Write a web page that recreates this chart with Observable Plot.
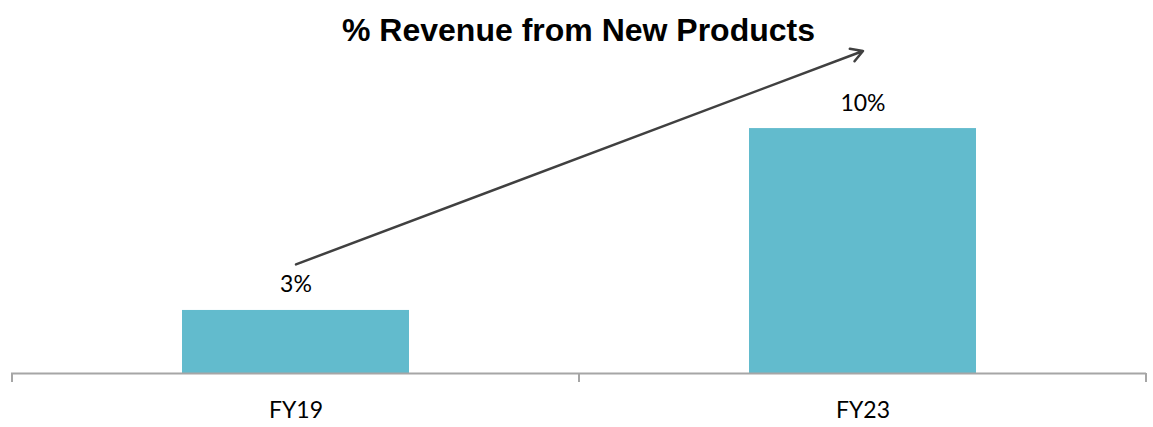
<!DOCTYPE html>
<html>
<head>
<meta charset="utf-8">
<script src="https://cdn.jsdelivr.net/npm/d3@7"></script>
<script src="https://cdn.jsdelivr.net/npm/@observablehq/plot@0.6"></script>
<style>
  body { margin: 0; background: #fff; }
  #title {
    height: 32px;
    padding: 12px 7px 0 11px;
    line-height: 32px;
    font: bold 32px "Liberation Sans", Arial, sans-serif;
    text-align: center;
    color: #000;
  }
</style>
</head>
<body>
<div id="title">% Revenue from New Products</div>
<div id="chart"></div>
<script>
// ---- data ----
const categories = ["FY19", "FY23"];
const values = [0.026, 0.101];           // share of revenue from new products
const arrowStart = ["FY19", 0.045];      // annotation arrow tail (category, value)
const arrowEnd = ["FY23", 0.133];        // annotation arrow head (category, value)

const data = categories.map((c, i) => ({category: c, value: values[i]}));
const fmt = d3.format(".0%");

const plot = Plot.plot({
  width: 1153,
  height: 383,
  marginLeft: 11,
  marginRight: 7,
  marginTop: 38,
  marginBottom: 54,
  x: {domain: categories, paddingInner: 0.6, paddingOuter: 0.3, label: null},
  y: {domain: [0, 0.12], axis: null},
  style: {fontFamily: "Lato, sans-serif", fontSize: "23px", color: "#000", background: "#fff", overflow: "visible"},
  marks: [
    Plot.barY(data, {x: "category", y: "value", fill: "#62BBCD"}),
    Plot.ruleY([0], {stroke: "#A6A6A6", strokeWidth: 2}),
    Plot.axisX({tickSize: 0, tickPadding: 28, label: null, fontSize: 23}),
    Plot.text(data, {x: "category", y: "value", text: d => fmt(d.value), dy: -18, lineAnchor: "bottom", fontSize: 23, fill: "#000"}),
    Plot.arrow([{a: arrowStart, b: arrowEnd}], {
      x1: d => d.a[0], y1: d => d.a[1], x2: d => d.b[0], y2: d => d.b[1],
      stroke: "#404040", strokeWidth: 2.5, headLength: 8
    })
  ]
});

// category-boundary tick marks on the x axis, placed with Plot's own x scale
const xs = plot.scale("x");
const y0 = plot.scale("y").apply(0);
const step = xs.step ?? xs.bandwidth / (1 - xs.paddingInner);
const half = (step - xs.bandwidth) / 2;
const bounds = categories.map(c => xs.apply(c) - half)
  .concat([xs.apply(categories[categories.length - 1]) + xs.bandwidth + half]);
d3.select(plot).append("g")
  .selectAll("line").data(bounds).join("line")
  .attr("x1", d => d).attr("x2", d => d)
  .attr("y1", y0).attr("y2", y0 + 9)
  .attr("stroke", "#A6A6A6").attr("stroke-width", 2);

document.getElementById("chart").append(plot);
</script>
</body>
</html>
